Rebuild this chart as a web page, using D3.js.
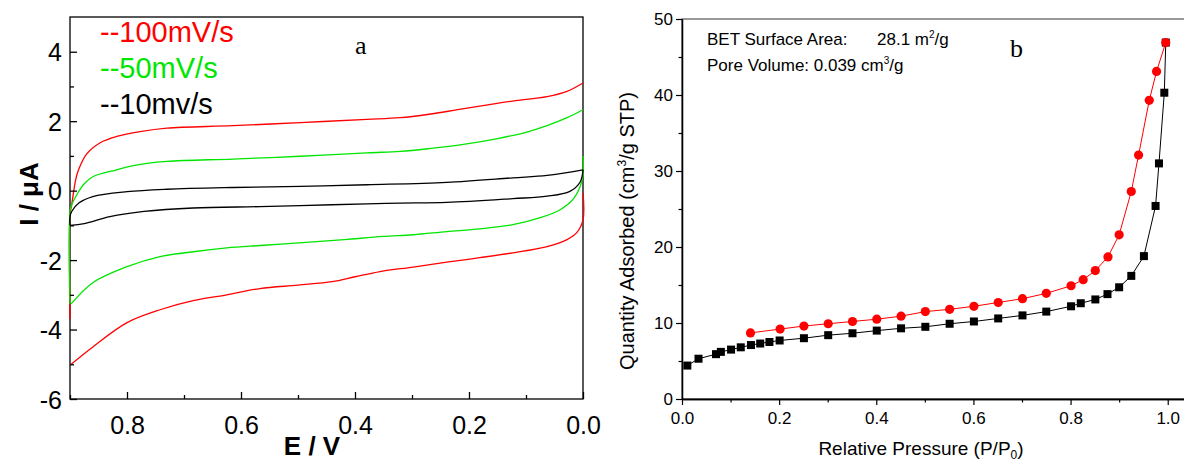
<!doctype html>
<html>
<head>
<meta charset="utf-8">
<script src="https://d3js.org/d3.v7.min.js"></script>
<style>
body { margin: 0; background: #fff; }
svg { display: block; font-family: "Liberation Sans", Arial, sans-serif; }
</style>
</head>
<body>
<svg width="1184" height="461"></svg>
<script>

// ---- panel a : cyclic voltammograms, [E (V), I (uA)] ----
const red100Up = [[0.9,-3.7],[0.9,-0.7],[0.897,-0.4],[0.89,0.32],[0.885,0.6],[0.871,1.05],[0.847,1.38],[0.818,1.56],
	[0.777,1.7],[0.73,1.8],[0.614,1.87],[0.496,1.96],[0.379,2.05],[0.321,2.1],[0.27,2.2],[0.22,2.33],[0.17,2.46],
	[0.123,2.58],[0.063,2.71],[0.028,2.86],[0,3.1]];
const red100Down = [[0,-0.06],[0,-0.84],[0.011,-1.21],[0.028,-1.41],[0.063,-1.61],[0.123,-1.79],[0.181,-1.93],[0.239,-2.06],
	[0.298,-2.2],[0.356,-2.33],[0.4,-2.48],[0.44,-2.62],[0.5,-2.72],[0.567,-2.82],[0.625,-3.0],[0.684,-3.17],
	[0.742,-3.43],[0.8,-3.8],[0.86,-4.5],[0.898,-5.0]];
const green50Up = [[0.9,-3.26],[0.9,-0.6],[0.898,-0.45],[0.886,-0.06],[0.875,0.2],[0.86,0.4],[0.818,0.6],[0.789,0.72],
	[0.73,0.84],[0.614,0.91],[0.496,0.99],[0.379,1.09],[0.321,1.13],[0.27,1.21],[0.21,1.33],[0.15,1.5],[0.1,1.68],
	[0.063,1.87],[0.028,2.1],[0,2.33]];
const green50Down = [[0,1.0],[0,0.45],[0.005,0.12],[0.018,-0.26],[0.04,-0.55],[0.075,-0.78],[0.123,-0.98],[0.181,-1.1],
	[0.239,-1.18],[0.298,-1.27],[0.351,-1.32],[0.419,-1.41],[0.486,-1.49],[0.567,-1.58],[0.625,-1.65],[0.684,-1.76],
	[0.742,-1.9],[0.8,-2.19],[0.86,-2.65],[0.898,-3.26]];
const black10Up = [[0.9,-1.0],[0.9,-0.75],[0.897,-0.6],[0.884,-0.35],[0.86,-0.17],[0.8,-0.03],[0.73,0.04],
	[0.614,0.09],[0.496,0.12],[0.379,0.17],[0.239,0.24],[0.123,0.37],[0.063,0.44],[0,0.6]];
const black10Down = [[0,0.6],[0.005,0.25],[0.023,-0.02],[0.063,-0.16],[0.123,-0.23],[0.239,-0.34],[0.321,-0.36],
	[0.379,-0.38],[0.496,-0.43],[0.567,-0.46],[0.684,-0.5],[0.77,-0.6],[0.83,-0.75],[0.875,-0.95],[0.9,-1.0]];
const cvLegend = ["--100mV/s", "--50mV/s", "--10mv/s"];
const cvColors = ["#ff0000", "#00e600", "#000000"];
const cvTicksX = [0.8, 0.6, 0.4, 0.2, 0.0];
const cvTicksY = [-6, -4, -2, 0, 2, 4];

// ---- panel b : N2 isotherm, [P/P0, cm3/g STP] ----
const adsorption = [[0.011,4.4],[0.034,5.3],[0.07,5.9],[0.08,6.2],[0.101,6.5],[0.121,6.8],[0.142,7.1],[0.161,7.3],
	[0.18,7.5],[0.201,7.7],[0.251,8.0],[0.301,8.4],[0.351,8.65],[0.401,9.0],[0.451,9.3],[0.501,9.5],[0.551,9.9],
	[0.601,10.2],[0.651,10.6],[0.701,11.0],[0.75,11.5],[0.801,12.2],[0.821,12.6],[0.851,13.1],[0.876,13.8],
	[0.9,14.7],[0.925,16.2],[0.951,18.8],[0.975,25.4],[0.982,31.0],[0.993,40.3],[0.996,46.9]];
const desorption = [[0.996,46.9],[0.977,43.1],[0.962,39.3],[0.94,32.1],[0.925,27.3],[0.9,21.6],[0.877,18.7],
	[0.851,16.9],[0.826,15.7],[0.801,14.9],[0.75,13.9],[0.701,13.2],[0.651,12.7],[0.601,12.2],[0.551,11.8],
	[0.501,11.5],[0.451,10.9],[0.401,10.5],[0.351,10.2],[0.301,9.9],[0.251,9.6],[0.202,9.2],[0.141,8.7]];
const betTicksX = [0, 0.2, 0.4, 0.6, 0.8, 1.0];
const betTicksY = [0, 10, 20, 30, 40, 50];

const svg = d3.select("svg");

// ================= panel a =================
const ax = d3.scaleLinear().domain([0.9, 0]).range([70, 583]);
const ay = d3.scaleLinear().domain([-6, 5]).range([399, 17]);
const ga = svg.append("g");

ga.append("rect").attr("x", 70).attr("y", 17).attr("width", 513).attr("height", 382)
	.attr("fill", "none").attr("stroke", "#000").attr("stroke-width", 1.3);

const cvLine = d3.line().x(d => ax(d[0])).y(d => ay(d[1])).curve(d3.curveCatmullRom.alpha(0.5));
[[red100Up, red100Down], [green50Up, green50Down], [black10Up, black10Down]].forEach((pair, i) => {
	pair.forEach(branch => {
		ga.append("path").attr("d", cvLine(branch))
			.attr("fill", "none").attr("stroke", cvColors[i]).attr("stroke-width", 1.3);
	});
});

// bottom and left axes, ticks inside
const axB = ga.append("g").attr("transform", "translate(0,399)")
	.call(d3.axisBottom(ax).tickValues(cvTicksX).tickFormat(d3.format(".1f")).tickSizeInner(-7).tickSizeOuter(0));
ga.append("g").attr("transform", "translate(0,399)")
	.call(d3.axisBottom(ax).tickValues([0.9, 0.7, 0.5, 0.3, 0.1]).tickFormat("").tickSizeInner(-4).tickSizeOuter(0));
const axL = ga.append("g").attr("transform", "translate(70,0)")
	.call(d3.axisLeft(ay).tickValues(cvTicksY).tickFormat(d => String(d)).tickSizeInner(-7).tickSizeOuter(0));
ga.append("g").attr("transform", "translate(70,0)")
	.call(d3.axisLeft(ay).tickValues([-5, -3, -1, 1, 3]).tickFormat("").tickSizeInner(-4).tickSizeOuter(0));
ga.selectAll(".domain").remove();
ga.selectAll(".tick line").attr("stroke", "#000").attr("stroke-width", 1.3);
axB.selectAll("text").attr("font-size", 25).attr("font-family", "Liberation Sans, Arial").attr("y", 17).attr("dy", "0.71em");
axL.selectAll("text").attr("font-size", 25).attr("font-family", "Liberation Sans, Arial").attr("x", -8).attr("dy", "0.36em");

ga.append("text").attr("transform", "translate(38,194) rotate(-90)").attr("text-anchor", "middle")
	.attr("font-size", 26).attr("font-weight", "bold").text("I / \u03bcA");
ga.append("text").attr("x", 312).attr("y", 455).attr("text-anchor", "middle")
	.attr("font-size", 26).attr("font-weight", "bold").text("E / V");

cvLegend.forEach((t, i) => {
	ga.append("text").attr("x", 100).attr("y", 42 + i * 36).attr("font-size", 29)
		.attr("fill", cvColors[i]).text(t);
});
ga.append("text").attr("x", 355).attr("y", 54).attr("font-size", 26)
	.attr("font-family", "Liberation Serif, Times New Roman, serif").text("a");

// ================= panel b =================
const bx = d3.scaleLinear().domain([0, 1.05]).range([682, 1192]);
const by = d3.scaleLinear().domain([0, 50]).range([399, 19]);
const gb = svg.append("g");

gb.append("rect").attr("x", 682).attr("y", 19).attr("width", 510).attr("height", 380)
	.attr("fill", "none").attr("stroke", "#555").attr("stroke-width", 1.2);

const bxAxis = gb.append("g").attr("transform", "translate(0,399)")
	.call(d3.axisBottom(bx).tickValues(betTicksX).tickFormat(d3.format(".1f")).tickSizeInner(6).tickSizeOuter(0));
gb.append("g").attr("transform", "translate(0,399)")
	.call(d3.axisBottom(bx).tickValues([0.1, 0.3, 0.5, 0.7, 0.9]).tickFormat("").tickSizeInner(3.5).tickSizeOuter(0));
const byAxis = gb.append("g").attr("transform", "translate(682,0)")
	.call(d3.axisLeft(by).tickValues(betTicksY).tickSizeInner(6).tickSizeOuter(0));
gb.append("g").attr("transform", "translate(682,0)")
	.call(d3.axisLeft(by).tickValues([5, 15, 25, 35, 45]).tickFormat("").tickSizeInner(3.5).tickSizeOuter(0));
gb.selectAll(".domain").attr("stroke", "#000").attr("stroke-width", 1.3);
gb.selectAll(".tick line").attr("stroke", "#000").attr("stroke-width", 1.2);
bxAxis.selectAll("text").attr("font-size", 17).attr("font-family", "Liberation Sans, Arial").attr("y", 13);
byAxis.selectAll("text").attr("font-size", 17).attr("font-family", "Liberation Sans, Arial").attr("x", -9);

const isoLine = d3.line().x(d => bx(d[0])).y(d => by(d[1]));
gb.append("path").attr("d", isoLine(adsorption)).attr("fill", "none").attr("stroke", "#000").attr("stroke-width", 1);
gb.append("path").attr("d", isoLine(desorption)).attr("fill", "none").attr("stroke", "#ff0000").attr("stroke-width", 1);
gb.selectAll("rect.sq").data(adsorption).enter().append("rect").attr("class", "sq")
	.attr("x", d => bx(d[0]) - 4).attr("y", d => by(d[1]) - 4).attr("width", 8).attr("height", 8).attr("fill", "#000");
gb.selectAll("circle.ci").data(desorption).enter().append("circle").attr("class", "ci")
	.attr("cx", d => bx(d[0])).attr("cy", d => by(d[1])).attr("r", 4.6).attr("fill", "#ff0000");

const xt = gb.append("text").attr("x", 921).attr("y", 455).attr("text-anchor", "middle").attr("font-size", 19);
xt.append("tspan").text("Relative Pressure (P/P");
xt.append("tspan").attr("font-size", 12).attr("dy", 4).text("0");
xt.append("tspan").attr("dy", -4).text(")");

const yt = gb.append("text").attr("transform", "translate(634,231) rotate(-90)").attr("text-anchor", "middle").attr("font-size", 20);
yt.append("tspan").text("Quantity Adsorbed (cm");
yt.append("tspan").attr("font-size", 12).attr("dy", -8).text("3");
yt.append("tspan").attr("dy", 8).text("/g STP)");

const t1 = gb.append("text").attr("x", 707).attr("y", 45).attr("font-size", 17);
t1.append("tspan").text("BET Surface Area:");
t1.append("tspan").attr("x", 877).text("28.1 m");
t1.append("tspan").attr("font-size", 10).attr("dy", -7).text("2");
t1.append("tspan").attr("dy", 7).text("/g");
const t2 = gb.append("text").attr("x", 707).attr("y", 71).attr("font-size", 17);
t2.append("tspan").text("Pore Volume: 0.039 cm");
t2.append("tspan").attr("font-size", 10).attr("dy", -7).text("3");
t2.append("tspan").attr("dy", 7).text("/g");

gb.append("text").attr("x", 1010).attr("y", 57).attr("font-size", 26)
	.attr("font-family", "Liberation Serif, Times New Roman, serif").text("b");

</script>
</body>
</html>
